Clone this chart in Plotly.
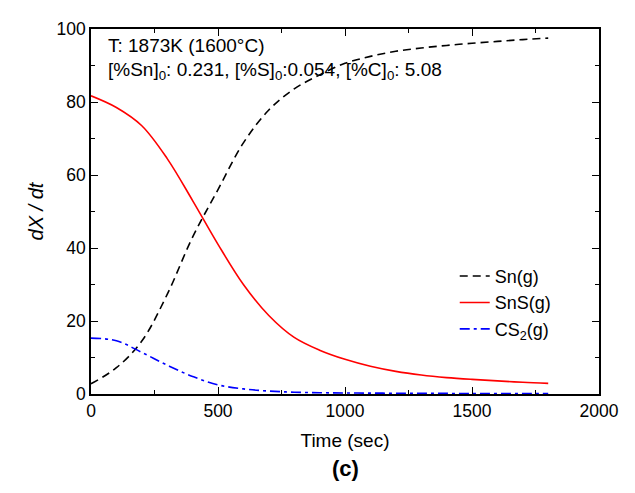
import plotly.graph_objects as go

time_s = [0, 100, 200, 300, 400, 500, 600, 700, 800, 900, 1000,
          1100, 1200, 1300, 1400, 1500, 1600, 1700, 1800]
sn_g = [2.8, 7.2, 14.5, 27.3, 43.0, 56.0, 68.8, 77.8, 83.6, 87.4, 90.6,
        92.5, 93.9, 94.8, 95.5, 96.1, 96.6, 97.1, 97.5]
sns_g = [81.7, 78.5, 73.5, 64.5, 53.0, 41.0, 30.0, 21.5, 15.5, 12.0, 9.5,
         7.6, 6.2, 5.2, 4.5, 4.0, 3.6, 3.2, 2.9]
cs2_g = [15.3, 14.6, 11.4, 7.9, 4.8, 2.5, 1.4, 0.8, 0.5, 0.35, 0.28,
         0.24, 0.21, 0.18, 0.16, 0.14, 0.12, 0.11, 0.1]

x_ticks = [0, 500, 1000, 1500, 2000]
y_ticks = [0, 20, 40, 60, 80, 100]

FONT = "Liberation Sans, Arial, Helvetica, sans-serif"

fig = go.Figure()
fig.add_trace(go.Scatter(x=time_s, y=sn_g, mode="lines", name="Sn(g)",
                         line=dict(color="black", width=1.6, dash="8px,5px", shape="spline")))
fig.add_trace(go.Scatter(x=time_s, y=sns_g, mode="lines", name="SnS(g)",
                         line=dict(color="#ff0000", width=1.6, shape="spline")))
fig.add_trace(go.Scatter(x=time_s, y=cs2_g, mode="lines", name="CS<sub>2</sub>(g)",
                         line=dict(color="#0000ff", width=1.6, dash="10px,4px,3px,4px", shape="spline")))

axis_common = dict(showline=True, linecolor="black", linewidth=1.5, mirror="allticks",
                   ticks="inside", ticklen=7, tickwidth=1.3, tickcolor="black",
                   showgrid=False, zeroline=False,
                   tickfont=dict(family=FONT, size=17.5, color="black"))

fig.update_xaxes(range=[0, 2000], tickvals=x_ticks,
                 minor=dict(ticks="inside", dtick=250, ticklen=4, tickwidth=1.3, tickcolor="black"),
                 title=dict(text="Time (sec)", font=dict(family=FONT, size=19, color="black"), standoff=14),
                 **axis_common)
fig.update_yaxes(range=[0, 100], tickvals=y_ticks,
                 minor=dict(ticks="inside", dtick=10, ticklen=4, tickwidth=1.3, tickcolor="black"),
                 title=dict(text="<i>dX / dt</i>", font=dict(family=FONT, size=20, color="black"), standoff=8),
                 **axis_common)

fig.add_annotation(text="T: 1873K (1600°C)", xref="paper", yref="paper",
                   x=0.03, y=0.955, xanchor="left", yanchor="middle",
                   showarrow=False, font=dict(family=FONT, size=19, color="black"))
fig.add_annotation(text="[%Sn]<sub>0</sub>: 0.231, [%S]<sub>0</sub>:0.054, [%C]<sub>0</sub>: 5.08",
                   xref="paper", yref="paper",
                   x=0.03, y=0.885, xanchor="left", yanchor="middle",
                   showarrow=False, font=dict(family=FONT, size=19, color="black"))
fig.add_annotation(text="<b>(c)</b>", xref="paper", yref="paper",
                   x=0.5, y=-(471 - 394) / 375, xanchor="center", yanchor="middle",
                   showarrow=False, font=dict(family=FONT, size=22, color="black"))

fig.update_layout(
    width=635, height=493,
    margin=dict(l=83, r=44, t=11, b=107),
    plot_bgcolor="white", paper_bgcolor="white",
    font=dict(family=FONT, size=18, color="black"),
    legend=dict(x=0.716, y=0.373, xanchor="left", yanchor="top",
                bgcolor="rgba(0,0,0,0)", font=dict(family=FONT, size=18, color="black"),
                tracegroupgap=0),
)

fig.write_html("out.html")
